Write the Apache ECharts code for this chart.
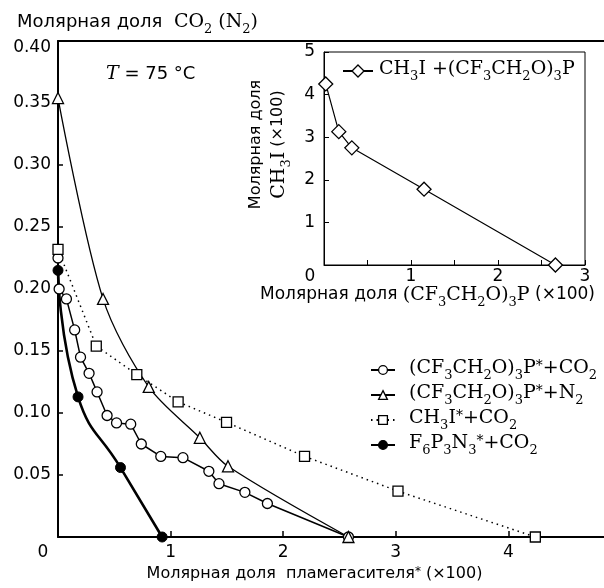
<!DOCTYPE html>
<html>
<head>
<meta charset="utf-8">
<script src="https://cdn.jsdelivr.net/npm/echarts@6/dist/echarts.min.js"></script>
<style>
html, body { margin: 0; padding: 0; background: #fff; }
#chart { width: 604px; height: 588px; }
</style>
</head>
<body>
<div id="chart"></div>
<script>
/* main chart: mole fraction of suppressant (x100) vs mole fraction CO2 (N2) */
var circX = [0.0, 0.01, 0.075, 0.148, 0.20, 0.276, 0.347, 0.436, 0.52, 0.646, 0.74, 0.913, 1.11, 1.34, 1.43, 1.66, 1.86, 2.58];
var circY = [0.225, 0.200, 0.192, 0.167, 0.145, 0.132, 0.117, 0.098, 0.092, 0.091, 0.075, 0.065, 0.064, 0.053, 0.043, 0.036, 0.027, 0.0];
var triX = [0.0, 0.40, 0.806, 1.26, 1.51, 2.58];
var triY = [0.354, 0.192, 0.121, 0.080, 0.057, 0.0];
var sqX = [0.0, 0.34, 0.70, 1.067, 1.497, 2.19, 3.02, 4.24];
var sqY = [0.232, 0.154, 0.131, 0.109, 0.0925, 0.065, 0.037, 0.0];
var dotX = [0.0, 0.178, 0.555, 0.925];
var dotY = [0.215, 0.113, 0.056, 0.0];

/* inset: CH3I vs (CF3CH2O)3P */
var insX = [0.02, 0.17, 0.32, 1.15, 2.66];
var insY = [4.25, 3.13, 2.75, 1.78, 0.0];

var mainXTicks = [0, 1, 2, 3, 4];
var insetXTicks = [0, 1, 2, 3];

var legendLabels = {
    circ: '{s|(CF}{b|3}{s|CH}{b|2}{s|O)}{b|3}{s|P}{p|*}{s|+CO}{b|2}',
    tri: '{s|(CF}{b|3}{s|CH}{b|2}{s|O)}{b|3}{s|P}{p|*}{s|+N}{b|2}',
    sq: '{s|CH}{b|3}{s|I}{p|*}{s|+CO}{b|2}',
    dot: '{s|F}{b|6}{s|P}{b|3}{s|N}{b|3}{p|*}{s|+CO}{b|2}',
    ins: '{s|CH}{b|3}{s|I +(CF}{b|3}{s|CH}{b|2}{s|O)}{b|3}{s|P}'
};

var SANS = 'DejaVu Sans';
var SERIF = 'DejaVu Serif';

function pairs(xs, ys) {
    var out = [];
    for (var i = 0; i < xs.length; i++) {
        out.push([xs[i], ys[i]]);
    }
    return out;
}

// rich text styles: a = sans, s = serif formula, b = subscript, p = superscript
function richSet(sansSize, spWidth) {
    return {
        a: { fontFamily: SANS, fontSize: sansSize, fontWeight: 'normal', lineHeight: 22, verticalAlign: 'top', color: '#000' },
        s: { fontFamily: SERIF, fontSize: 19, fontWeight: 'normal', lineHeight: 22, verticalAlign: 'top', color: '#000' },
        b: { fontFamily: SERIF, fontSize: 13, fontWeight: 'normal', lineHeight: 13, padding: [10, 0, 0, 0], verticalAlign: 'top', color: '#000' },
        p: { fontFamily: SERIF, fontSize: 14, fontWeight: 'normal', lineHeight: 14, verticalAlign: 'top', color: '#000' },
        ap: { fontFamily: SANS, fontSize: 12, fontWeight: 'normal', lineHeight: 12, verticalAlign: 'top', color: '#000' },
        i: { fontFamily: SERIF, fontStyle: 'italic', fontSize: 19, fontWeight: 'normal', lineHeight: 22, verticalAlign: 'top', color: '#000' },
        sp: { width: spWidth || 0 }
    };
}

function tickRich(pad) {
    return {
        z: { fontFamily: SANS, fontSize: 17, color: '#000', padding: pad },
        t: { fontFamily: SANS, fontSize: 17, color: '#000', padding: [14, 0, 0, 0] },
        n: { fontFamily: SANS, fontSize: 17, color: '#000' }
    };
}

var openSym = { color: '#fff', borderColor: '#000', borderWidth: 1.3 };

var chart = echarts.init(document.getElementById('chart'));

var option = {
    animation: false,
    backgroundColor: '#fff',
    title: {
        left: 12,
        top: 8,
        text: '{a|Молярная доля  }{s|CO}{b|2}{s| (N}{b|2}{s|)}',
        textStyle: { fontWeight: 'normal', rich: richSet(18) }
    },
    graphic: [{
        type: 'text',
        left: 106,
        top: 65,
        style: {
            text: '{i|T}{a| = 75 °C}',
            rich: richSet(18)
        }
    }],
    grid: [
        { left: 58, top: 41, right: 0, bottom: 51 },
        { left: 324, top: 52, width: 261, height: 213, show: true, borderColor: '#000', borderWidth: 1 }
    ],
    legend: [{
        data: ['circ', 'tri', 'sq', 'dot'],
        orient: 'vertical',
        left: 365,
        top: 354,
        itemWidth: 24,
        itemHeight: 11,
        itemGap: 2,
        selectedMode: false,
        itemStyle: { borderWidth: 1.3 },
        formatter: function (n) { return '{sp|}' + legendLabels[n]; },
        textStyle: { rich: richSet(17, 9) }
    }, {
        data: ['ins'],
        left: 337,
        top: 55,
        itemWidth: 30,
        itemHeight: 15,
        selectedMode: false,
        itemStyle: { borderWidth: 1.3 },
        formatter: function (n) { return '{sp|}' + legendLabels[n]; },
        textStyle: { rich: richSet(17, 1) }
    }],
    xAxis: [{
        gridIndex: 0,
        type: 'value',
        min: 0,
        max: 4.85,
        interval: 1,
        axisLine: { lineStyle: { color: '#000', width: 2 } },
        axisTick: { inside: true, length: 6, lineStyle: { color: '#000', width: 1.5 } },
        splitLine: { show: false },
        axisLabel: {
            margin: 7,
            showMaxLabel: false,
            formatter: function (v) {
                if (mainXTicks.indexOf(v) < 0) return '';
                return v === 0 ? '{z|0}' : '{n|' + v + '}';
            },
            rich: tickRich([0, 30, 0, 0])
        },
        name: '{a|Молярная доля  пламегасителя}{ap|*}{a| (×100)}',
        nameLocation: 'middle',
        nameGap: 29,
        nameTextStyle: { rich: richSet(16), padding: [0, 33, 0, 0] }
    }, {
        gridIndex: 0,
        type: 'value',
        position: 'top',
        min: 0,
        max: 4.85,
        axisLine: { show: true, lineStyle: { color: '#000', width: 2 } },
        axisTick: { show: false },
        axisLabel: { show: false },
        splitLine: { show: false }
    }, {
        gridIndex: 1,
        type: 'value',
        min: 0,
        max: 3,
        interval: 0.5,
        axisLine: { lineStyle: { color: '#000', width: 1 } },
        axisTick: { inside: true, length: 5, lineStyle: { color: '#000', width: 1 } },
        splitLine: { show: false },
        axisLabel: {
            margin: 3,
            formatter: function (v) {
                if (insetXTicks.indexOf(v) < 0) return '';
                return v === 0 ? '{z|0}' : '{n|' + v + '}';
            },
            rich: tickRich([0, 28, 0, 0])
        },
        name: '{a|Молярная доля }{s|(CF}{b|3}{s|CH}{b|2}{s|O)}{b|3}{s|P}{a| (×100)}',
        nameLocation: 'middle',
        nameGap: 20,
        nameTextStyle: { rich: richSet(17), padding: [0, 54, 0, 0] }
    }],
    yAxis: [{
        gridIndex: 0,
        type: 'value',
        min: 0,
        max: 0.40,
        interval: 0.05,
        axisLine: { lineStyle: { color: '#000', width: 2 } },
        axisTick: { inside: true, length: 5, lineStyle: { color: '#000', width: 1.5 } },
        splitLine: { show: false },
        axisLabel: {
            margin: 7,
            formatter: function (v) {
                if (Math.abs(v) < 1e-9) return '';
                if (Math.abs(v - 0.4) < 1e-9) return '{t|0.40}';
                return '{n|' + v.toFixed(2) + '}';
            },
            rich: tickRich([0, 0, 0, 0])
        }
    }, {
        gridIndex: 1,
        type: 'value',
        min: 0,
        max: 5,
        interval: 1,
        axisLine: { lineStyle: { color: '#000', width: 1 } },
        axisTick: { inside: true, length: 5, lineStyle: { color: '#000', width: 1 } },
        splitLine: { show: false },
        axisLabel: {
            margin: 9,
            formatter: function (v) { return v === 0 ? '' : '{n|' + v + '}'; },
            rich: tickRich([0, 0, 0, 0])
        },
        name: '{a|Молярная доля}\n{s|CH}{b|3}{s|I}{a| (×100)}',
        nameLocation: 'middle',
        nameGap: 32,
        nameTextStyle: { rich: richSet(16), padding: [0, 0, 0, 28] }
    }],
    series: [{
        name: 'circ',
        type: 'line',
        xAxisIndex: 0,
        yAxisIndex: 0,
        data: pairs(circX, circY),
        symbol: 'circle',
        symbolSize: 10,
        clip: false,
        itemStyle: openSym,
        lineStyle: { color: '#000', width: 1.5 }
    }, {
        name: 'tri',
        type: 'line',
        xAxisIndex: 0,
        yAxisIndex: 0,
        data: pairs(triX, triY),
        symbol: 'triangle',
        symbolSize: 11,
        smooth: 0.3,
        clip: false,
        itemStyle: openSym,
        lineStyle: { color: '#000', width: 1.3 }
    }, {
        name: 'sq',
        type: 'line',
        xAxisIndex: 0,
        yAxisIndex: 0,
        data: pairs(sqX, sqY),
        symbol: 'rect',
        symbolSize: 10,
        clip: false,
        itemStyle: openSym,
        lineStyle: { color: '#000', width: 1.5, type: [1.5, 4] }
    }, {
        name: 'dot',
        type: 'line',
        xAxisIndex: 0,
        yAxisIndex: 0,
        data: pairs(dotX, dotY),
        symbol: 'circle',
        symbolSize: 10,
        smooth: 0.5,
        clip: false,
        itemStyle: { color: '#000', borderColor: '#000', borderWidth: 1 },
        lineStyle: { color: '#000', width: 2.6 }
    }, {
        name: 'ins',
        type: 'line',
        xAxisIndex: 2,
        yAxisIndex: 1,
        data: pairs(insX, insY),
        symbol: 'diamond',
        symbolSize: 14,
        clip: false,
        itemStyle: openSym,
        lineStyle: { color: '#000', width: 1.2 }
    }]
};

chart.setOption(option);
</script>
</body>
</html>
